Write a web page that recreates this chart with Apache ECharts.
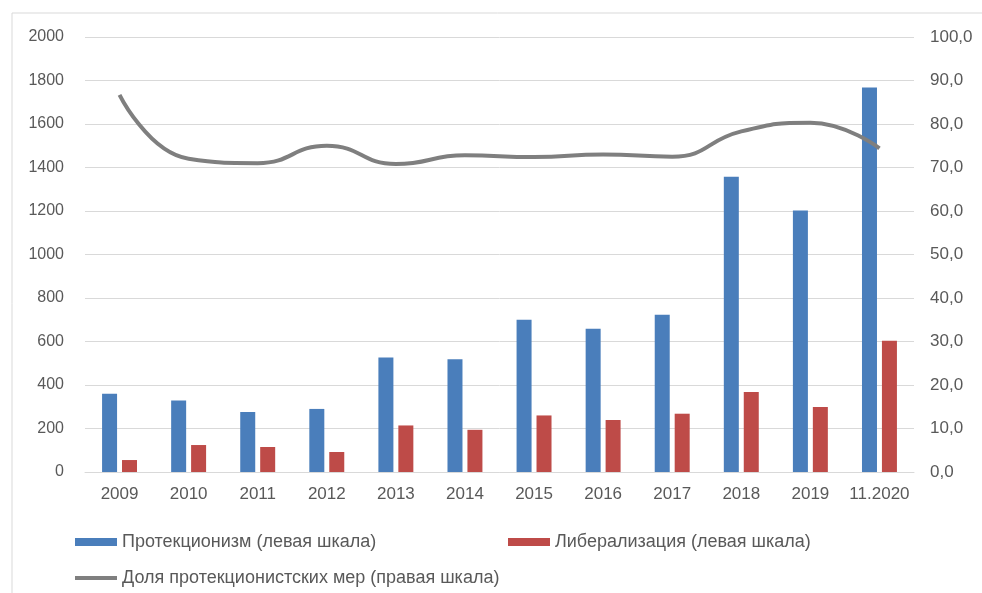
<!DOCTYPE html>
<html>
<head>
<meta charset="utf-8">
<script src="https://cdn.jsdelivr.net/npm/echarts@6/dist/echarts.min.js"></script>
<style>
  html, body { margin: 0; padding: 0; background: #fff; }
  #main { width: 982px; height: 593px; }
</style>
</head>
<body>
<div id="main"></div>
<script>
const categories = ['2009', '2010', '2011', '2012', '2013', '2014', '2015', '2016', '2017', '2018', '2019', '11.2020'];
const protectionism = [360, 329, 276, 290, 527, 518, 700, 659, 723, 1358, 1202, 1768];
const liberalization = [55, 124, 115, 92, 214, 194, 260, 239, 268, 368, 299, 604];
const protectionShare = [86.7, 72.0, 71.0, 75.0, 70.8, 72.8, 72.4, 73.0, 72.5, 78.3, 80.3, 74.4];

const textColor = '#595959';
const fontFamily = 'Liberation Sans, Arial, sans-serif';

const chart = echarts.init(document.getElementById('main'));

const legendText = { color: textColor, fontSize: 18, fontFamily: fontFamily };

const option = {
  animation: false,
  graphic: [
    {
      type: 'rect',
      shape: { x: 12, y: 13, width: 1000, height: 620 },
      style: { fill: 'none', stroke: '#d9d9d9', lineWidth: 1 }
    }
  ],
  grid: { left: 85, right: 68, top: 37, bottom: 121 },
  legend: [
    {
      data: [{ name: 'Протекционизм (левая шкала)', icon: 'rect' }],
      left: 75, top: 533, padding: 0,
      itemWidth: 42, itemHeight: 8,
      textStyle: legendText
    },
    {
      data: [{ name: 'Либерализация (левая шкала)', icon: 'rect' }],
      left: 508, top: 533, padding: 0,
      itemWidth: 42, itemHeight: 8,
      textStyle: legendText
    },
    {
      data: [{ name: 'Доля протекционистских мер (правая шкала)', icon: 'rect' }],
      left: 75, top: 569, padding: 0,
      itemWidth: 42, itemHeight: 4,
      textStyle: legendText
    }
  ],
  xAxis: {
    type: 'category',
    data: categories,
    axisLine: { lineStyle: { color: '#d9d9d9' } },
    axisTick: { show: false },
    axisLabel: { color: textColor, fontSize: 17, fontFamily: fontFamily, margin: 14, interval: 0 }
  },
  yAxis: [
    {
      type: 'value',
      min: 0, max: 2000, interval: 200,
      axisLine: { show: false },
      axisTick: { show: false },
      axisLabel: {
        color: textColor, fontSize: 16, fontFamily: fontFamily, margin: 21,
        formatter: v => String(v)
      },
      splitLine: { lineStyle: { color: '#d9d9d9', width: 1 } }
    },
    {
      type: 'value',
      min: 0, max: 100, interval: 10,
      axisLine: { show: false },
      axisTick: { show: false },
      splitLine: { show: false },
      axisLabel: {
        color: textColor, fontSize: 17, fontFamily: fontFamily, margin: 16,
        formatter: v => v.toFixed(1).replace('.', ',')
      }
    }
  ],
  series: [
    {
      name: 'Протекционизм (левая шкала)',
      type: 'bar',
      data: protectionism,
      barWidth: 15,
      barGap: '33%',
      itemStyle: { color: '#4a7ebb' }
    },
    {
      name: 'Либерализация (левая шкала)',
      type: 'bar',
      data: liberalization,
      barWidth: 15,
      itemStyle: { color: '#be4b48' }
    },
    {
      name: 'Доля протекционистских мер (правая шкала)',
      type: 'line',
      yAxisIndex: 1,
      data: protectionShare,
      smooth: 0.5,
      symbol: 'none',
      lineStyle: { color: '#7f7f7f', width: 4 },
      itemStyle: { color: '#7f7f7f' }
    }
  ]
};

chart.setOption(option);
</script>
</body>
</html>
